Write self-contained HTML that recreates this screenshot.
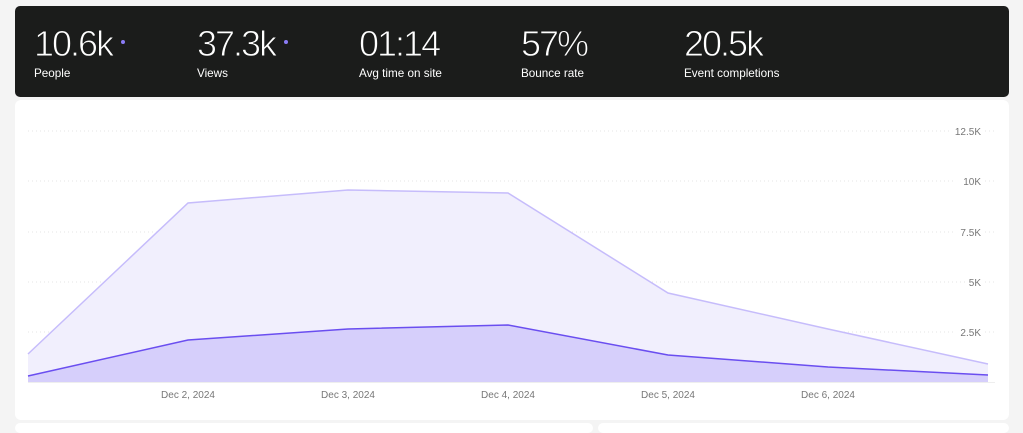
<!DOCTYPE html>
<html><head><style>
body{margin:0;width:1023px;height:426px;background:#f4f4f4;font-family:"Liberation Sans",sans-serif;overflow:hidden;position:relative}
.top{position:absolute;left:15px;top:6px;width:994px;height:91px;background:#1b1c1b;border-radius:5px}
.m{position:absolute;top:18px;color:#fff}
.m .v{font-size:36px;font-weight:400;letter-spacing:-2px;line-height:40px;-webkit-text-stroke:0.9px #1b1c1b}
.m .l{font-size:11.7px;margin-top:3px}
.dot{display:inline-block;width:4px;height:4px;border-radius:50%;background:#8b7cf6;margin-left:9px;vertical-align:middle;position:relative;top:-4px;-webkit-text-stroke:0}
.card{position:absolute;left:15px;top:100px;width:994px;height:320px;background:#fff;border-radius:6px}
.b2{position:absolute;top:423px;height:10px;background:#fff;border-radius:6px}
</style></head><body>
<div class="top">
<div class="m" style="left:19px"><div class="v">10.6k<span class="dot"></span></div><div class="l">People</div></div>
<div class="m" style="left:182px"><div class="v">37.3k<span class="dot"></span></div><div class="l">Views</div></div>
<div class="m" style="left:344px"><div class="v">01:14</div><div class="l">Avg time on site</div></div>
<div class="m" style="left:506px"><div class="v">57%</div><div class="l">Bounce rate</div></div>
<div class="m" style="left:669px"><div class="v">20.5k</div><div class="l">Event completions</div></div>
</div>
<div class="card"></div>
<div class="b2" style="left:15px;width:578px"></div>
<div class="b2" style="left:598px;width:411px"></div>
<svg style="position:absolute;left:0;top:0" width="1023" height="426">
<g stroke="#e6e6e6" stroke-dasharray="1,3" stroke-width="1">
<line x1="28" x2="950" y1="131" y2="131"/><line x1="985" x2="995" y1="131" y2="131"/>
<line x1="28" x2="955" y1="181" y2="181"/><line x1="985" x2="995" y1="181" y2="181"/>
<line x1="28" x2="955" y1="232" y2="232"/><line x1="985" x2="995" y1="232" y2="232"/>
<line x1="28" x2="965" y1="282" y2="282"/><line x1="985" x2="995" y1="282" y2="282"/>
<line x1="28" x2="955" y1="332" y2="332"/><line x1="985" x2="995" y1="332" y2="332"/>
</g>
<g font-size="10" fill="#777" text-anchor="end">
<text x="981" y="135">12.5K</text><text x="981" y="185">10K</text><text x="981" y="236">7.5K</text><text x="981" y="286">5K</text><text x="981" y="336">2.5K</text>
</g>
<line x1="28" x2="995" y1="382.5" y2="382.5" stroke="#eee"/>
<polygon points="28,354 188,203 348,190 508,193 668,293 828,329 988,364 988,382 28,382" fill="#f1effd"/>
<polyline points="28,354 188,203 348,190 508,193 668,293 828,329 988,364" fill="none" stroke="#c6bcfb" stroke-width="1.5"/>
<polygon points="28,376 188,340 348,329 508,325 668,355 828,367 988,375 988,382 28,382" fill="#d6cffb"/>
<polyline points="28,376 188,340 348,329 508,325 668,355 828,367 988,375" fill="none" stroke="#6a4ef0" stroke-width="1.5"/>
<g font-size="10" fill="#777" text-anchor="middle">
<text x="188" y="398">Dec 2, 2024</text><text x="348" y="398">Dec 3, 2024</text><text x="508" y="398">Dec 4, 2024</text><text x="668" y="398">Dec 5, 2024</text><text x="828" y="398">Dec 6, 2024</text>
</g>
</svg>
</body></html>
